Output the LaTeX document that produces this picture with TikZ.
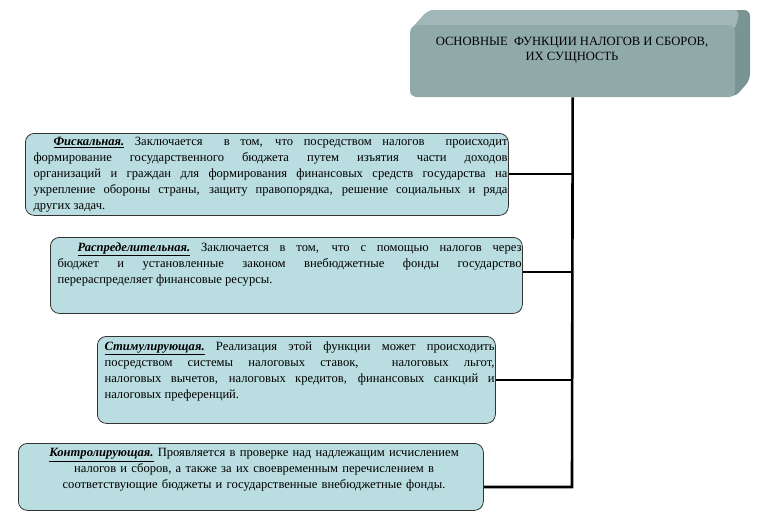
\documentclass[tikz,border=0pt]{standalone}
\usepackage{fontspec}
\setmainfont{Liberation Serif}
\begin{document}
\begin{tikzpicture}[x=1pt,y=-1pt,
  fbox/.style={draw=black!80,line width=0.8pt,rounded corners=9pt,fill=boxc,inner sep=0pt},
  ftext/.style={font=\fontsize{12.6}{16}\selectfont,align=justify},
  conn/.style={line width=2.6pt}]
\definecolor{boxc}{HTML}{B9DDE0}
\definecolor{topc}{HTML}{90AAAA}
\definecolor{topd}{HTML}{7A9494}
\useasboundingbox (0,0) rectangle (764,517);
% top 3D box
\fill[topd,rounded corners=6pt] (410,40) -- (428,10) -- (750,10) -- (750,80) -- (735,97) -- cycle;
\fill[topc!85!white,rounded corners=6pt] (410,97) -- (410,30) -- (428,10) -- (740,10) -- (735,30) -- cycle;
\node[fill=topc,rounded corners=7pt,minimum width=325pt,minimum height=72pt,anchor=north west] (top) at (410,25) {};
\node[font=\fontsize{12.6}{15}\selectfont,align=center,anchor=north] at (572,34) {ОСНОВНЫЕ \ ФУНКЦИИ НАЛОГОВ И СБОРОВ,\\ ИХ СУЩНОСТЬ};
\coordinate (bend) at (572,487);
% boxes
\node[fbox,minimum width=483pt,minimum height=82pt,anchor=north west] (b1) at (25,133) {};
\node[ftext,text width=474pt,anchor=north west] at (30,134) {\hspace*{20pt}\textbf{\textit{\underline{Фискальная.}}} Заключается \ в том, что посредством налогов \ происходит\linebreak формирование государственного бюджета путем изъятия части доходов\linebreak организаций и граждан для формирования финансовых средств государства на\linebreak укрепление обороны страны, защиту правопорядка, решение социальных и ряда\linebreak других задач.};
\node[fbox,minimum width=472pt,minimum height=76pt,anchor=north west] (b2) at (50,237) {};
\node[ftext,text width=464pt,anchor=north west] at (54,239) {\hspace*{20pt}\textbf{\textit{\underline{Распределительная.}}} Заключается в том, что с помощью налогов через\linebreak бюджет и установленные законом внебюджетные фонды государство\linebreak перераспределяет финансовые ресурсы.};
\node[fbox,minimum width=398pt,minimum height=87pt,anchor=north west] (b3) at (97,336) {};
\node[ftext,text width=390pt,anchor=north west] at (101,338) {\textbf{\textit{\underline{Стимулирующая.}}} Реализация этой функции может происходить\linebreak посредством системы налоговых ставок, \ налоговых льгот,\linebreak налоговых вычетов, налоговых кредитов, финансовых санкций и\linebreak налоговых преференций.};
\node[fbox,minimum width=465pt,minimum height=67pt,anchor=north west] (b4) at (18,443) {};
\node[ftext,align=center,text width=465pt,anchor=north west] at (18,445) {\textbf{\textit{\underline{Контролирующая.}}} Проявляется в проверке над надлежащим исчислением\\ налогов и сборов, а также за их своевременным перечислением в\\ соответствующие бюджеты и государственные внебюджетные фонды.};
% connectors
\draw[conn] (top.south) -- (bend) -- (b4.east |- bend);
\draw[conn] (b1.east |- 0,174) -- (572,174);
\draw[conn] (b2.east |- 0,272) -- (572,272);
\draw[conn] (b3.east |- 0,380) -- (572,380);
\end{tikzpicture}
\end{document}
